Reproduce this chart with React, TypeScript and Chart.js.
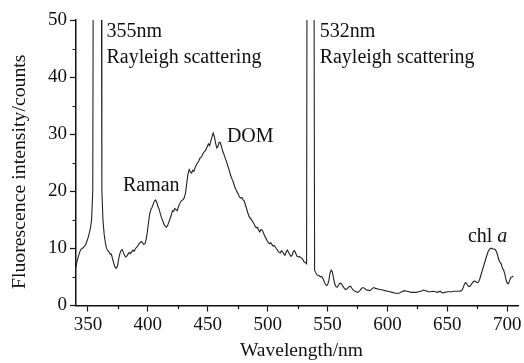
import React, { useEffect, useRef } from "react";
import { Chart, registerables } from "chart.js";

Chart.register(...registerables);

const wavelength: number[] = [
  340, 341, 342, 343, 344, 345, 346, 347, 348, 349, 350, 351, 352, 353, 354, 354.6,
  361, 361.6, 362.5, 363.5, 364.5, 365.5, 366.5, 367.5, 368.5, 369.5, 370.5, 371.5, 372.5, 373.5,
  374.5, 375.5, 376.5, 377.5, 378.5, 379.5, 380.5, 381.5, 382.5, 383.5, 384.5, 385.5, 386.5, 387.5,
  388.5, 389.5, 390.5, 391.5, 392.5, 393.5, 394.5, 395.5, 396.5, 397.5, 398.5, 399.5, 400.5, 401.5,
  402.5, 403.5, 404.5, 405.5, 406.5, 407.5, 408.5, 409.5, 410.5, 411.5, 412.5, 413.5, 414.5, 415.5,
  416.5, 417.5, 418.5, 419.5, 420.5, 421.5, 422.5, 423.5, 424.5, 425.5, 426.5, 427.5, 428.5, 429.5,
  430.5, 431.5, 432.5, 433.5, 434.5, 435.5, 436.5, 437.5, 438.5, 439.5, 440.5, 441.5, 442.5, 443.5,
  444.5, 445.5, 446.5, 447.5, 448.5, 449.5, 450.5, 451.5, 452.5, 453.5, 454.5, 455.5, 456.5, 457.5,
  458.5, 459.5, 460.5, 461.5, 462.5, 463.5, 464.5, 465.5, 466.5, 467.5, 468.5, 469.5, 470.5, 471.5,
  472.5, 473.5, 474.5, 475.5, 476.5, 477.5, 478.5, 479.5, 480.5, 481.5, 482.5, 483.5, 484.5, 485.5,
  486.5, 487.5, 488.5, 489.5, 490.5, 491.5, 492.5, 493.5, 494.5, 495.5, 496.5, 497.5, 498.5, 499.5,
  500.5, 501.5, 502.5, 503.5, 504.5, 505.5, 506.5, 507.5, 508.5, 509.5, 510.5, 511.5, 512.5, 513.5,
  514.5, 515.5, 516.5, 517.5, 518.5, 519.5, 520.5, 521.5, 522.5, 523.5, 524.5, 525.5, 526.5, 527.5,
  528.5, 529.5, 530.5, 531.5, 532.5, 533, 538.5, 539.2, 540, 541, 542, 543, 544, 545,
  546, 547, 548, 549, 550, 551, 552, 553, 554, 555, 556, 557, 558, 559,
  560, 561, 562, 563, 564, 565, 566, 567, 568, 569, 570, 571, 572, 573,
  574, 575, 576, 577, 578, 579, 580, 581, 582, 583, 584, 585, 586, 587,
  588, 589, 590, 592, 594, 596, 598, 600, 602, 604, 606, 608, 610, 612,
  614, 616, 618, 620, 622, 624, 626, 628, 630, 632, 634, 636, 638, 640,
  642, 644, 646, 648, 650, 652, 654, 656, 658, 660, 662, 663, 664, 665,
  666, 667, 668, 669, 670, 671, 672, 673, 674, 675, 676, 677, 678, 679,
  680, 681, 682, 683, 684, 685, 686, 687, 688, 689, 690, 691, 692, 693,
  694, 695, 696, 697, 698, 699, 700, 701, 702, 703, 704, 705,
];

const intensity: number[] = [
  6.8, 7.8, 8.6, 9.3, 9.8, 10.0, 10.1, 10.4, 10.6, 11.2, 11.8, 12.6, 13.5, 15.0, 20, 80,
  80, 20, 15, 12.5, 11, 10, 9.6, 9.4, 9.0, 9.0, 8.2, 7.4, 6.8, 6.5,
  6.8, 8.0, 9.0, 9.6, 9.8, 9.3, 8.8, 8.5, 8.7, 9.0, 9.3, 9.1, 9.4, 9.7,
  9.5, 9.9, 10.2, 10.4, 10.8, 11.0, 11.2, 11.0, 10.7, 10.8, 11.5, 12.8, 14.5, 16.0,
  16.8, 17.2, 17.8, 18.3, 18.5, 18.0, 17.3, 16.8, 16.0, 15.3, 14.8, 14.2, 13.9, 13.7,
  14.0, 14.6, 15.2, 15.8, 16.6, 16.5, 17.0, 16.8, 16.6, 17.3, 17.8, 18.2, 18.4, 18.6,
  18.9, 19.8, 21.5, 23.0, 23.8, 23.4, 23.2, 23.7, 23.5, 24.2, 24.6, 25.0, 25.3, 25.8,
  26.0, 26.3, 26.8, 27.0, 27.3, 27.8, 28.3, 28.0, 28.8, 29.5, 30.2, 29.6, 28.5, 27.6,
  27.8, 28.6, 28.5, 27.8, 27.0, 26.5, 25.8, 25.3, 24.6, 24.0, 23.2, 22.6, 22.0, 21.5,
  20.8, 20.3, 19.9, 19.5, 19.0, 18.8, 18.9, 18.5, 18.3, 17.6, 16.9, 16.2, 15.6, 15.3,
  15.0, 14.7, 14.3, 13.9, 13.6, 13.7, 13.2, 12.9, 13.3, 13.2, 12.7, 12.2, 11.8, 11.4,
  11.0, 10.8, 11.0, 10.7, 10.4, 10.5, 10.2, 9.9, 9.6, 9.3, 9.2, 9.6, 9.4, 9.0,
  8.8, 9.4, 9.7, 9.3, 8.9, 8.6, 8.8, 9.5, 9.6, 9.1, 8.6, 8.5, 8.6, 8.4,
  8.3, 8.0, 7.6, 7.5, 7.3, 80, 80, 6.2, 5.8, 5.4, 5.3, 5.2, 5.0, 5.1,
  4.8, 4.3, 3.8, 3.5, 3.6, 4.3, 5.6, 6.2, 5.9, 4.8, 3.8, 3.3, 3.2, 3.5,
  3.8, 3.9, 3.7, 3.3, 3.0, 2.8, 2.9, 3.1, 3.3, 3.4, 3.1, 2.8, 2.6, 2.5,
  2.4, 2.3, 2.4, 2.6, 2.9, 3.1, 3.1, 3.0, 2.8, 2.7, 2.7, 2.6, 2.7, 2.9,
  3.1, 3.1, 3.0, 2.9, 2.8, 2.7, 2.6, 2.5, 2.4, 2.3, 2.2, 2.1, 2.2, 2.4,
  2.6, 2.5, 2.4, 2.3, 2.3, 2.3, 2.4, 2.5, 2.7, 2.6, 2.4, 2.4, 2.5, 2.4,
  2.3, 2.5, 2.2, 2.3, 2.4, 2.4, 2.4, 2.5, 2.5, 2.5, 2.6, 3.0, 3.6, 4.0,
  3.9, 3.5, 3.3, 3.4, 3.7, 4.0, 4.2, 4.3, 4.1, 4.0, 4.1, 4.6, 5.3, 6.0,
  6.7, 7.4, 8.1, 8.8, 9.4, 9.8, 10.0, 10.0, 9.9, 9.9, 9.8, 9.4, 8.8, 8.0,
  7.6, 7.3, 6.5, 6.2, 5.5, 4.5, 3.9, 3.8, 4.4, 4.9, 5.0, 5.2,
];

const xMajorTicks: number[] = [350, 400, 450, 500, 550, 600, 650, 700];
const xMinorTicks: number[] = [375, 425, 475, 525, 575, 625, 675];
const yMajorTicks: number[] = [0, 10, 20, 30, 40, 50];
const yMinorTicks: number[] = [5, 15, 25, 35, 45];

const xTitle = "Wavelength/nm";
const yTitle = "Fluorescence intensity/counts";

// annotation texts with anchor (wavelength, intensity) of their baseline-left
const noteTexts: string[] = ["355nm", "Rayleigh scattering", "532nm", "Rayleigh scattering", "Raman", "DOM", "chl "];
const noteX: number[] = [365.4, 365.4, 543.4, 543.4, 379.2, 466, 667.2];
const noteY: number[] = [47, 42.5, 47, 42.5, 20, 28.7, 11.2];

const FONT = '"Liberation Serif", "Times New Roman", serif';
const INK = "#111";

export default function App() {
  const ref = useRef<HTMLCanvasElement | null>(null);

  useEffect(() => {
    document.body.style.margin = "0";
    const canvas = ref.current;
    if (!canvas) return;

    const extras = {
      id: "extras",
      afterDraw(chart: any) {
        const { ctx, scales } = chart;
        const xs = scales.x;
        const ys = scales.y;
        ctx.save();
        ctx.strokeStyle = INK;
        ctx.lineWidth = 1.2;
        ctx.beginPath();
        xMinorTicks.forEach((v) => {
          const px = Math.round(xs.getPixelForValue(v)) + 0.5;
          ctx.moveTo(px, xs.top);
          ctx.lineTo(px, xs.top + 3.5);
        });
        yMinorTicks.forEach((v) => {
          const py = Math.round(ys.getPixelForValue(v)) + 0.5;
          ctx.moveTo(ys.right, py);
          ctx.lineTo(ys.right - 3.5, py);
        });
        ctx.stroke();

        // annotations
        ctx.fillStyle = INK;
        ctx.textBaseline = "alphabetic";
        ctx.textAlign = "left";
        noteTexts.forEach((t, i) => {
          const px = xs.getPixelForValue(noteX[i]);
          const py = ys.getPixelForValue(noteY[i]);
          ctx.font = `20px ${FONT}`;
          ctx.fillText(t, px, py);
          if (t === "chl ") {
            const w = ctx.measureText(t).width;
            ctx.font = `italic 20px ${FONT}`;
            ctx.fillText("a", px + w, py);
          }
        });

        // axis titles
        ctx.textAlign = "center";
        ctx.textBaseline = "middle";
        ctx.font = `19.5px ${FONT}`;
        ctx.fillText(xTitle, (xs.left + xs.right) / 2 + 4.5, 351);
        ctx.save();
        ctx.translate(19.5, (ys.top + ys.bottom) / 2 + 9);
        ctx.rotate(-Math.PI / 2);
        ctx.font = `19.8px ${FONT}`;
        ctx.fillText(yTitle, 0, 0);
        ctx.restore();
        ctx.restore();
      },
    };

    const points = wavelength.map((w, i) => ({ x: w, y: intensity[i] }));

    const chart = new Chart(canvas, {
      type: "line",
      data: {
        datasets: [
          {
            data: points,
            borderColor: "#222",
            borderWidth: 1.1,
            pointRadius: 0,
            tension: 0,
            fill: false,
          },
        ],
      },
      options: {
        animation: false,
        responsive: false,
        devicePixelRatio: 1,
        parsing: false,
        layout: { padding: { top: 20, right: 6, left: 0, bottom: 0 } },
        plugins: { legend: { display: false }, tooltip: { enabled: false } },
        scales: {
          x: {
            type: "linear",
            min: 340,
            max: 709,
            afterBuildTicks: (scale: any) => {
              scale.ticks = xMajorTicks.map((v) => ({ value: v }));
            },
            afterFit: (scale: any) => {
              scale.height = 57.5;
            },
            ticks: {
              font: { family: FONT, size: 19 },
              color: INK,
              padding: 2,
              maxRotation: 0,
              autoSkip: false,
            },
            grid: {
              drawOnChartArea: false,
              drawTicks: true,
              tickLength: 6,
              tickColor: INK,
              tickWidth: 1.2,
            },
            border: { display: true, color: INK, width: 1.5 },
            title: { display: false },
          },
          y: {
            type: "linear",
            min: 0,
            max: 50,
            afterBuildTicks: (scale: any) => {
              scale.ticks = yMajorTicks.map((v) => ({ value: v }));
            },
            afterFit: (scale: any) => {
              scale.width = 76;
            },
            ticks: {
              font: { family: FONT, size: 19 },
              color: INK,
              padding: 3,
            },
            grid: {
              drawOnChartArea: false,
              drawTicks: true,
              tickLength: 6,
              tickColor: INK,
              tickWidth: 1.2,
            },
            border: { display: true, color: INK, width: 1.5 },
            title: { display: false },
          },
        },
      },
      plugins: [extras],
    });

    return () => {
      chart.destroy();
    };
  }, []);

  return <canvas ref={ref} width={524} height={363} style={{ display: "block", width: 524, height: 363 }} />;
}
